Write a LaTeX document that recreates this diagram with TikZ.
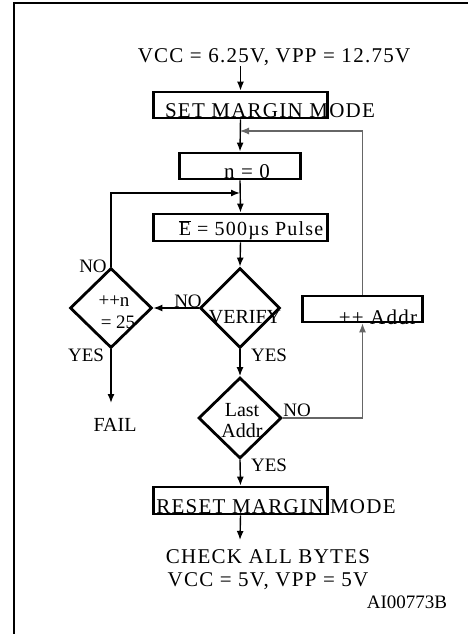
\documentclass[tikz,border=0pt]{standalone}
\usepackage{fontspec}
\setmainfont{Liberation Serif}
\newfontfamily\spc[LetterSpace=6]{Liberation Serif}
\usetikzlibrary{shapes.geometric,arrows.meta}
\begin{document}
\begin{tikzpicture}[x=1pt,y=-1pt,
  box/.style={draw,line width=2.8pt,inner sep=0pt},
  dia/.style={draw,diamond,line width=2.8pt,inner sep=0pt,aspect=1},
  txt/.style={inner sep=0pt,font=\fontsize{20}{22}\selectfont},
  stxt/.style={inner sep=0pt,font=\fontsize{21}{23}\selectfont\spc},
  lbl/.style={inner sep=0pt,font=\fontsize{19}{21}\selectfont},
  arr/.style={line width=1.4pt,-{Latex[length=9pt,width=7pt]}},
  gl/.style={line width=1.1pt,draw=black!60}]
\useasboundingbox (0,0) rectangle (468,634);
\draw[line width=2pt] (14,634) -- (14,3) -- (468,3);
% nodes
\node[stxt] (title) at (274,57) {VCC = 6.25V, VPP = 12.75V};
\node[box,minimum width=174,minimum height=26] (set) at (240.5,105) {};
\node[stxt] (settxt) at (270,111) {SET MARGIN MODE};
\node[box,minimum width=121,minimum height=26] (n0) at (240,166) {};
\node[stxt] (n0txt) at (247,172) {n = 0};
\node[box,minimum width=174,minimum height=27] (pulse) at (240.5,227.5) {};
\node[txt,font=\fontsize{20}{22}\selectfont\spc] (pulsetxt) at (251,230) {$\overline{\mbox{E}}$ = 500µs Pulse};
\node[dia,minimum width=80,minimum height=80] (verify) at (240,308) {};
\node[txt] (verifytxt) at (245,317) {VERIFY};
\node[dia,minimum width=82,minimum height=80] (cnt) at (111,308) {};
\node[txt,font=\fontsize{19}{21}\selectfont] (cnttxt1) at (114,301) {++n};
\node[txt,font=\fontsize{19}{21}\selectfont] (cnttxt2) at (118,322) {= 25};
\node[dia,minimum width=83,minimum height=81] (last) at (240,418) {};
\node[txt] (lasttxt1) at (242,410) {Last};
\node[txt] (lasttxt2) at (242,431) {Addr};
\node[box,minimum width=120,minimum height=26] (addr) at (362.5,309) {};
\node[stxt] (addrtxt) at (378,317) {++ Addr};
\node[box,minimum width=174,minimum height=27] (reset) at (240.5,500.5) {};
\node[stxt] (resettxt) at (276,507) {RESET MARGIN MODE};
\node[txt] (fail) at (115,425) {FAIL};
\node[stxt] (check1) at (268,557) {CHECK ALL BYTES};
\node[stxt] (check2) at (268,581) {VCC = 5V, VPP = 5V};
\node[lbl] (code) at (407,602) {AI00773B};
% labels
\node[lbl] (no1) at (188,301) {NO};
\node[lbl] (no2) at (93,266) {NO};
\node[lbl] (yes1) at (86,355) {YES};
\node[lbl] (yes2) at (269,355) {YES};
\node[lbl] (no3) at (297,410) {NO};
\node[lbl] (yes3) at (269,465) {YES};
% junctions
\coordinate (j1) at (240,193);
\coordinate (j2) at (240,131);
\coordinate (failtop) at (111,403);
\coordinate (endp) at (240,540);
% connectors
\draw[arr] (title.south -| set.north) -- (set.north);
\draw[arr] (set.south) -- (n0.north);
\draw[arr] (n0.south) -- (pulse.north);
\draw[arr] (pulse.south) -- (verify.north);
\draw[arr] (verify.west) -- (cnt.east);
\draw[arr] (cnt.north) |- (j1);
\draw[arr] (cnt.south) -- (failtop);
\draw[arr] (verify.south) -- (last.north);
\draw[gl,-{Latex[length=9pt,width=7pt]}] (last.east) -| (addr.south);
\draw[gl,-{Latex[length=9pt,width=7pt]}] (addr.north) |- (j2);
\draw[arr] (last.south) -- (reset.north);
\draw[arr] (reset.south) -- (endp);
\end{tikzpicture}
\end{document}
